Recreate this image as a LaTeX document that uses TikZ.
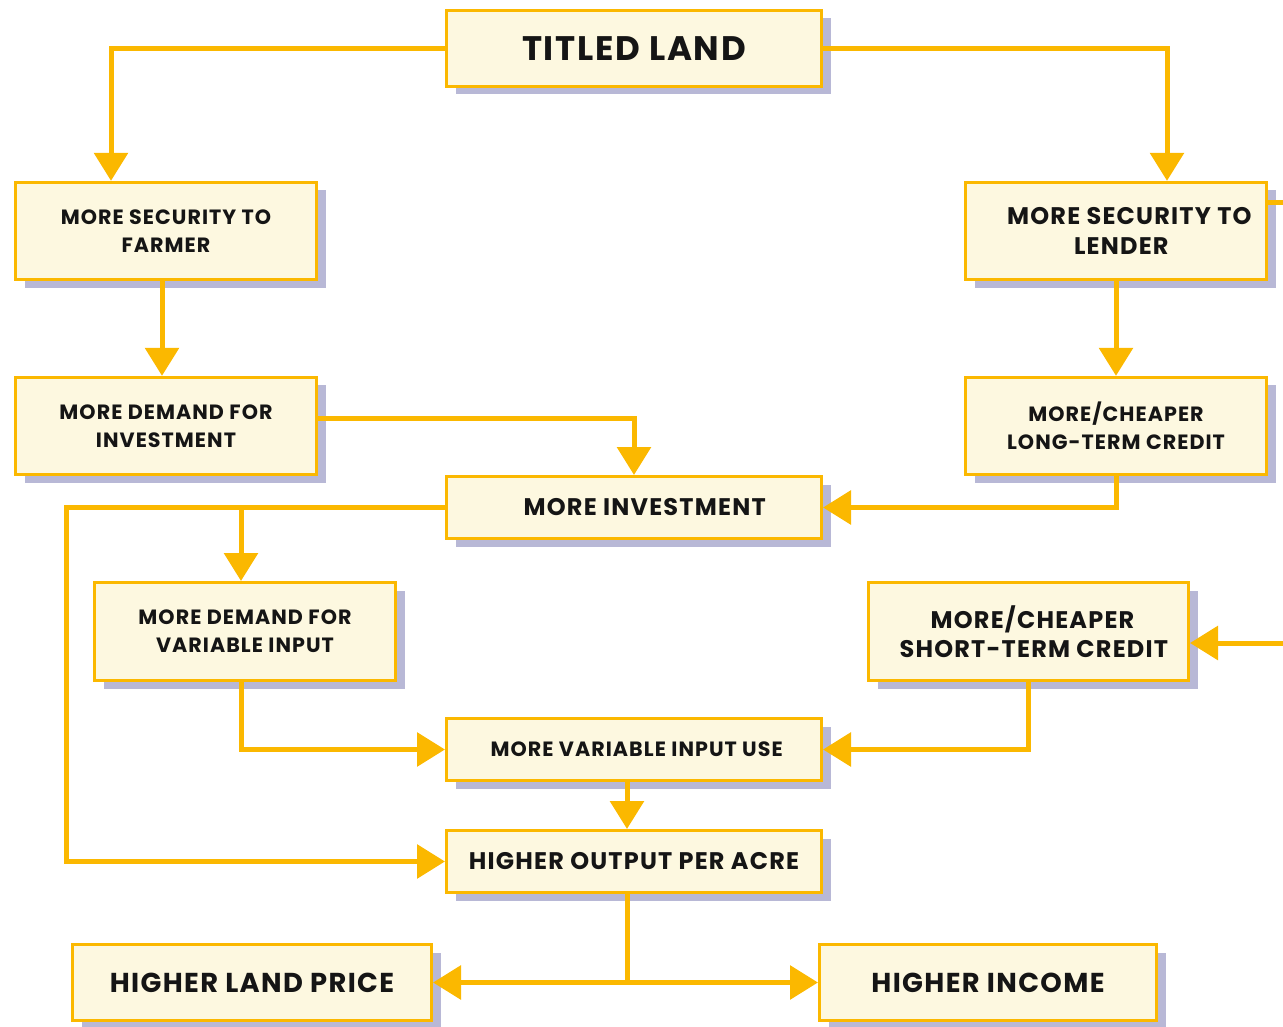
\documentclass[tikz,border=0pt]{standalone}
\usepackage{fontspec}
\setmainfont{Poppins}[LetterSpace=5]
\usetikzlibrary{arrows.meta,shadows}
\definecolor{yel}{HTML}{FBB800}
\definecolor{cream}{HTML}{FDF8E0}
\definecolor{shad}{HTML}{B8B8D6}
\definecolor{ink}{HTML}{151515}
\tikzset{
  box/.style={draw=yel, line width=2.25pt, fill=cream, inner sep=0pt, align=center,
    text=ink, general shadow={fill=shad, shadow xshift=6.75pt, shadow yshift=-6pt}},
  wide/.style={minimum width=281.25pt, minimum height=46.5pt},
  mid/.style={minimum width=225.75pt, minimum height=73pt},
  fsmall/.style={font=\fontsize{15.5}{21}\selectfont\bfseries},
  fmed/.style={font=\fontsize{18}{22}\selectfont\bfseries},
  fbig/.style={font=\fontsize{20.5}{24}\selectfont\bfseries},
  conn/.style={draw=yel, line width=3.75pt, -{Triangle[length=21pt,width=25pt]}}
}
\begin{document}
\begin{tikzpicture}[x=0.75pt,y=-0.75pt]
\useasboundingbox (0,0) rectangle (1283,1027);
% nodes
\node[box, minimum width=281.25pt, minimum height=57pt, font=\fontsize{25.5}{28}\selectfont\bfseries] (titled) at (634,48.5) {TITLED LAND};
\node[box, mid, fsmall] (farmer) at (166,231) {MORE SECURITY TO\\FARMER};
\node[box, mid, fmed] (lender) at (1116,231) {\hspace*{20pt}MORE SECURITY TO\\\hspace*{8pt}LENDER};
\node[box, mid, fsmall] (invdem) at (166,426) {MORE DEMAND FOR\\INVESTMENT};
\node[box, mid, fsmall] (longterm) at (1116,426) {MORE/CHEAPER\\LONG-TERM CREDIT};
\node[box, wide, fmed] (invest) at (634,507.5) {\hspace*{16pt}MORE INVESTMENT};
\node[box, minimum width=225.75pt, minimum height=73.5pt, fsmall] (vardem) at (245,631.5) {MORE DEMAND FOR\\VARIABLE INPUT};
\node[box, minimum width=240pt, minimum height=73.5pt, fmed] (short) at (1028.5,631.5) {\hspace*{6pt}MORE/CHEAPER\\\hspace*{8pt}SHORT-TERM CREDIT};
\node[box, wide, fsmall] (varuse) at (634,749.5) {\hspace*{4pt}MORE VARIABLE INPUT USE};
\node[box, wide, fmed] (output) at (634,861.5) {HIGHER OUTPUT PER ACRE};
\node[box, minimum width=269.25pt, minimum height=57pt, fbig] (land) at (252,982.5) {HIGHER LAND PRICE};
\node[box, minimum width=252.75pt, minimum height=57pt, fbig] (income) at (988,982.5) {HIGHER INCOME};
% helper coordinates
\coordinate (lx) at (66,0);
\coordinate (vdn) at ([xshift=-3pt]vardem.north);
\coordinate (vds) at ([xshift=-3pt]vardem.south);
\coordinate (offR) at (1320,203);
\coordinate (offB) at (1320,643);
% connectors
\draw[conn] (titled.west) -| ([xshift=-41.25pt]farmer.north);
\draw[conn] (titled.east) -| ([xshift=38.25pt]lender.north);
\draw[conn] ([xshift=-3pt]farmer.south) -- ([xshift=-3pt]invdem.north);
\draw[conn] (lender.south) -- (longterm.north);
\draw[conn] ([yshift=6pt]invdem.east) -| (invest.north);
\draw[conn] (longterm.south) |- (invest.east);
\draw[conn] (invest.west) -- (invest.west -| lx) |- (output.west);
\draw[conn] (vdn |- invest.west) -- (vdn);
\draw[conn] (vds) |- (varuse.west);
\draw[conn] (short.south) |- (varuse.east);
\draw[conn] ([xshift=-5.25pt]varuse.south) -- ([xshift=-5.25pt]output.north);
\draw[conn] ([xshift=-5.25pt]output.south) |- (land.east);
\draw[conn] ([xshift=-5.25pt]output.south) |- (income.west);
\draw[conn] (lender.east |- offR) -- (offR) -- (offB) -- (short.east |- offB);
\end{tikzpicture}
\end{document}
